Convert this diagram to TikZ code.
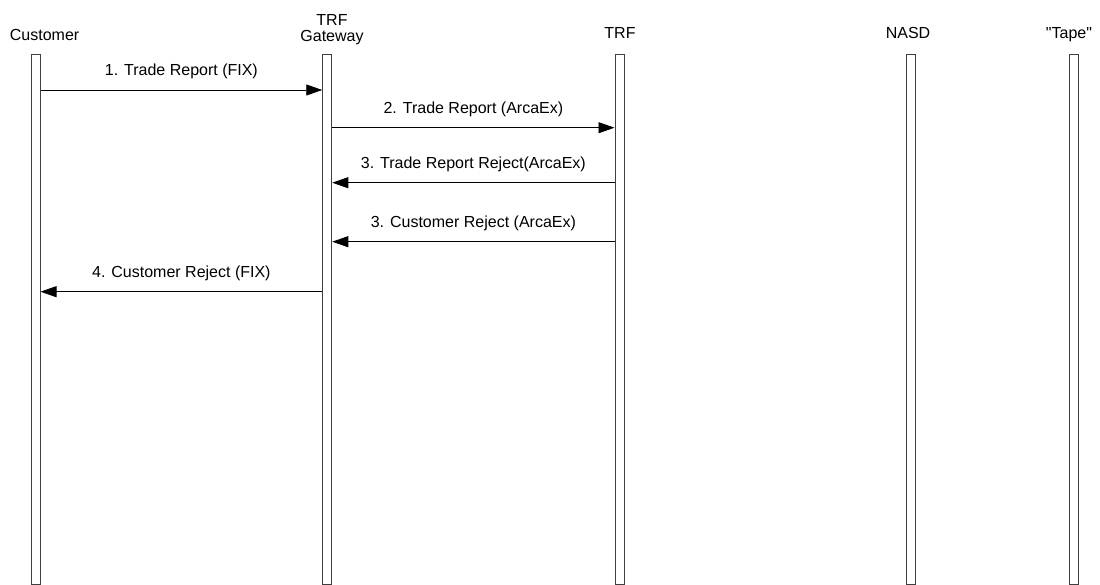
\documentclass[tikz,border=0pt]{standalone}
\usepackage{fontspec}
\setmainfont{Liberation Sans}
\usetikzlibrary{calc, arrows.meta}
\tikzstyle{bar}=[draw=black!75, line width=1pt, minimum width=9pt, minimum height=529pt, inner sep=0pt]
\tikzstyle{head}=[anchor=base, inner sep=0pt, align=center]
\tikzstyle{msg}=[above=7pt, midway]

\begin{document}
\begin{tikzpicture}[x=1pt,y=-1pt,>={Triangle[length=16pt,width=11pt]},font=\fontsize{16}{16}\selectfont]
      \useasboundingbox (0,0) rectangle (1100,585);
      % lifelines
      \node [bar] (cust) at (35.5,319.5) {};
      \node [bar] (gate) at (327.25,319.5) {};
      \node [bar] (trf) at (619.5,319.5) {};
      \node [bar] (nasd) at (910.5,319.5) {};
      \node [bar] (tape) at (1074,319.5) {};
      % headers
      \node [head] (custlbl) at (44.6,40.5) {Customer};
      \node [head] (gatelbl) at (332,42) {TRF\\Gateway};
      \node [head] (trflbl) at (620,39) {TRF};
      \node [head] (nasdlbl) at (908,39) {NASD};
      \node [head] (tapelbl) at (1069,39) {\textquotedbl Tape\textquotedbl};
      % message rows
      \coordinate (r1) at (0,90);
      \coordinate (r2) at (0,127.7);
      \coordinate (r3) at (0,182.7);
      \coordinate (r4) at (0,241.7);
      \coordinate (r5) at (0,291.7);
      \draw[->, line width=0.8pt] (cust.east |- r1) -- node [msg] {1. Trade Report (FIX)} (gate.west |- r1);
      \draw[->, line width=0.8pt] (gate.east |- r2) -- node [msg] {2. Trade Report (ArcaEx)} (trf.west |- r2);
      \draw[->, line width=0.8pt] (trf.west |- r3) -- node [msg] {3. Trade Report Reject(ArcaEx)} (gate.east |- r3);
      \draw[->, line width=0.8pt] (trf.west |- r4) -- node [msg] {3. Customer Reject (ArcaEx)} (gate.east |- r4);
      \draw[->, line width=0.8pt] (gate.west |- r5) -- node [msg] {4. Customer Reject (FIX)} (cust.east |- r5);
  \end{tikzpicture}
\end{document}
